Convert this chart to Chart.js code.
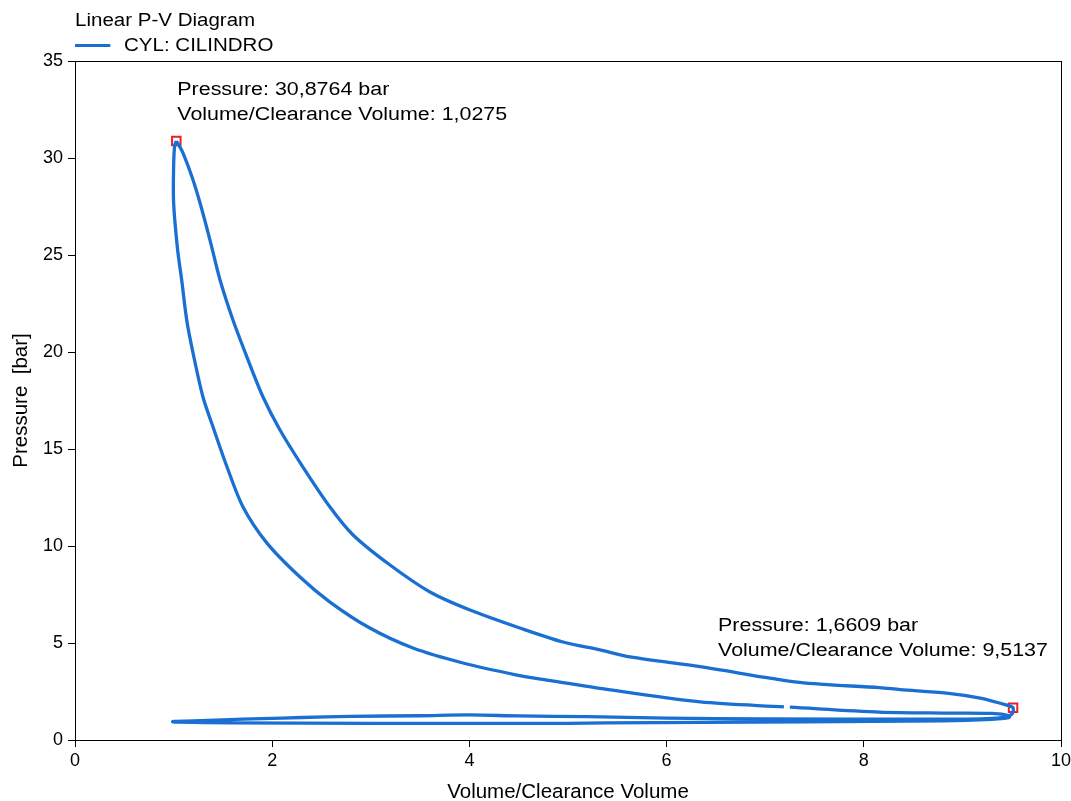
<!DOCTYPE html>
<html>
<head>
<meta charset="utf-8">
<script src="https://cdn.jsdelivr.net/npm/chart.js@4/dist/chart.umd.min.js"></script>
<style>
  body { margin: 0; background: #fff; font-family: "Liberation Sans", Arial, sans-serif; }
  #wrap { position: relative; width: 1071px; height: 801px; overflow: hidden; }
  #custom-legend { position: absolute; left: 75px; top: 9px; color: #000; transform: scaleX(1.14); transform-origin: left top; }
</style>
</head>
<body>
<div id="wrap">
  <canvas id="pv-canvas" width="1071" height="801"></canvas>
  <div id="custom-legend"></div>
</div>
<script>
// P-V loop, traced from the peak: expansion, exhaust, intake, compression
const volume = [
  1.0275, 1.06, 1.095, 1.187, 1.268, 1.369, 1.471, 1.602, 1.744, 1.907, 2.079, 2.312, 2.586, 2.82, 3.195, 3.60,
  4.006, 4.513, 4.949, 5.325, 5.629, 6.34, 7.35, 8.16, 8.37, 8.84, 9.18, 9.45, 9.5137,
  9.50, 9.35, 8.7, 7.0, 6.0, 5.2, 4.5, 4.0, 3.5, 2.8, 2.3, 1.9, 1.5, 1.2, 1.0,
  0.99, 1.05, 1.6, 3.0, 5.0, 5.4, 7.4, 8.8, 9.3, 9.47,
  9.48, 9.3, 8.84, 8.16, 7.25, 7.22, 7.19, 6.34, 5.325, 4.787, 4.483, 3.935, 3.428, 2.99, 2.586, 2.282,
  1.947, 1.704, 1.542, 1.40, 1.298, 1.197, 1.133, 1.082, 1.04, 1.0, 1.0, 1.01, 1.0275
];
const pressure = [
  30.8764, 30.6, 30.26, 29.02, 27.68, 25.77, 23.71, 21.65, 19.74, 17.68, 15.98, 14.07, 12.01, 10.57, 9.02, 7.63,
  6.70, 5.77, 5.05, 4.64, 4.28, 3.78, 2.97, 2.70, 2.60, 2.42, 2.16, 1.80, 1.6609,
  1.32, 1.13, 1.07, 1.09, 1.13, 1.20, 1.24, 1.29, 1.25, 1.22, 1.16, 1.10, 1.04, 0.98, 0.96,
  0.94, 0.92, 0.88, 0.86, 0.86, 0.88, 0.94, 0.99, 1.07, 1.15,
  1.25, 1.37, 1.39, 1.44, 1.69, null, 1.71, 1.96, 2.66, 3.09, 3.35, 3.97, 4.74, 5.77, 7.11, 8.40,
  10.15, 12.01, 14.07, 16.13, 17.68, 19.95, 21.65, 23.71, 25.3, 27.7, 29.5, 30.6, 30.8764
];

// cursor markers
const markerVolume = [1.0275, 9.5137];
const markerPressure = [30.8764, 1.6609];
const markerText = [
  ['Pressure: 30,8764 bar', 'Volume/Clearance Volume: 1,0275'],
  ['Pressure: 1,6609 bar', 'Volume/Clearance Volume: 9,5137']
];
const markerOffset = [[1, -46], [-295, -77]];

const xTicks = [0, 2, 4, 6, 8, 10];
const yTicks = [0, 5, 10, 15, 20, 25, 30, 35];

const lineColor = '#1a6fd2';
const fontFamily = '"Liberation Sans", Arial, sans-serif';

const points = volume.map((v, i) => ({ x: v, y: pressure[i] }));
const markers = markerVolume.map((v, i) => ({ x: v, y: markerPressure[i] }));

// frame round the plot area + the cursor texts
const framePlugin = {
  id: 'frame',
  afterDraw(chart) {
    const { ctx, chartArea } = chart;
    ctx.save();
    ctx.strokeStyle = '#000';
    ctx.lineWidth = 1;
    ctx.strokeRect(chartArea.left + 0.5, chartArea.top + 0.5,
      chartArea.right - chartArea.left, chartArea.bottom - chartArea.top);

    ctx.fillStyle = '#000';
    ctx.font = '18px ' + fontFamily;
    ctx.textBaseline = 'alphabetic';
    ctx.textAlign = 'left';
    markers.forEach((m, i) => {
      const px = chart.scales.x.getPixelForValue(m.x) + markerOffset[i][0];
      const py = chart.scales.y.getPixelForValue(m.y) + markerOffset[i][1];
      ctx.save();
      ctx.translate(px, py);
      ctx.scale(1.19, 1); // the viewer's text runs wider than Arial
      ctx.fillText(markerText[i][0], 0, 0);
      ctx.fillText(markerText[i][1], 0, 25);
      ctx.restore();
    });
    ctx.restore();
  }
};

const ctx = document.getElementById('pv-canvas').getContext('2d');
const pvChart = new Chart(ctx, {
  type: 'scatter',
  data: {
    datasets: [{
      label: 'CYL: CILINDRO',
      data: points,
      showLine: true,
      spanGaps: false,
      borderColor: lineColor,
      backgroundColor: lineColor,
      borderWidth: 3.3,
      pointRadius: 0,
      tension: 0.3
    }, {
      label: 'markers',
      data: markers,
      showLine: false,
      pointStyle: 'rect',
      pointRadius: 6,
      borderColor: '#e8202a',
      borderWidth: 2,
      backgroundColor: 'rgba(0,0,0,0)'
    }]
  },
  options: {
    responsive: false,
    animation: false,
    layout: { padding: { top: 61, right: 10, left: 0, bottom: -4 } },
    plugins: {
      legend: { display: false },
      tooltip: { enabled: false }
    },
    scales: {
      x: {
        type: 'linear',
        min: 0,
        max: 10,
        afterBuildTicks: scale => { scale.ticks = xTicks.map(v => ({ value: v })); },
        afterFit: scale => { scale.height = 65; scale.paddingRight = 10; scale.paddingLeft = 0; },
        grid: { display: true, drawOnChartArea: false, drawTicks: true, tickLength: 7, color: '#000' },
        border: { display: true, color: '#000' },
        ticks: { color: '#000', font: { family: fontFamily, size: 18 }, padding: 3, maxRotation: 0 },
        title: { display: true, text: 'Volume/Clearance Volume', color: '#000',
          font: { family: fontFamily, size: 20.5 }, padding: { top: 0, bottom: 0 } }
      },
      y: {
        type: 'linear',
        min: 0,
        max: 35,
        afterBuildTicks: scale => { scale.ticks = yTicks.map(v => ({ value: v })); },
        afterFit: scale => { scale.width = 75; },
        grid: { display: true, drawOnChartArea: false, drawTicks: true, tickLength: 7, color: '#000' },
        border: { display: true, color: '#000' },
        ticks: { color: '#000', font: { family: fontFamily, size: 18 }, padding: 5 },
        title: { display: true, text: 'Pressure  [bar]', color: '#000',
          font: { family: fontFamily, size: 20.5 }, padding: { top: 9, bottom: 0 } }
      }
    }
  },
  plugins: [framePlugin]
});

// legend drawn as html, like the original viewer
function updateCustomLegend() {
  const legendContainer = document.getElementById('custom-legend');
  legendContainer.innerHTML = '';

  const title = document.createElement('div');
  title.textContent = 'Linear P-V Diagram';
  title.style.fontSize = '18px';
  title.style.lineHeight = '23px';
  legendContainer.appendChild(title);

  const legendItem = document.createElement('div');
  legendItem.style.display = 'flex';
  legendItem.style.alignItems = 'center';
  legendItem.style.height = '26px';

  const lineBox = document.createElement('span');
  lineBox.style.width = '31px';
  lineBox.style.height = '3px';
  lineBox.style.backgroundColor = lineColor;
  lineBox.style.marginRight = '12px';

  const label = document.createElement('span');
  label.textContent = 'CYL: CILINDRO';
  label.style.fontSize = '18px';

  legendItem.appendChild(lineBox);
  legendItem.appendChild(label);
  legendContainer.appendChild(legendItem);
}
updateCustomLegend();
</script>
</body>
</html>
